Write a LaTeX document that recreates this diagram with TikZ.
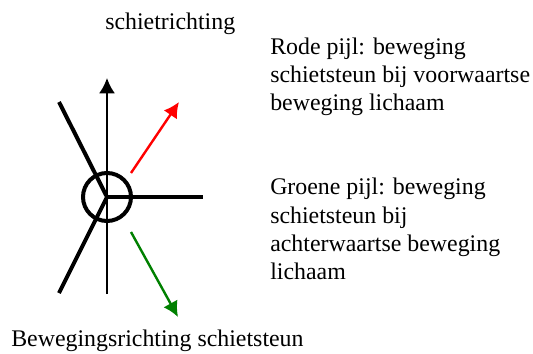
\documentclass[tikz,border=0pt]{standalone}
\usepackage{fontspec}
\setmainfont{Liberation Serif}
\usetikzlibrary{arrows.meta}
\definecolor{dgreen}{RGB}{0,128,0}
\tikzset{
 lbl/.style={inner sep=0pt,anchor=base west,font=\fontsize{17.9}{17.9}\selectfont},
 heavy/.style={line width=3pt,black},
 axis/.style={line width=1.5pt,black,-{Latex[length=11.5pt,width=12pt]}},
 arr/.style={line width=1.8pt,-{Latex[length=11.5pt,width=12pt]}}}
\begin{document}
\begin{tikzpicture}[x=0.75pt,y=-0.75pt]
\useasboundingbox (0,0) rectangle (533,354);
\fill[white] (0,0) rectangle (533,354);
\coordinate (c) at (107,197);
\coordinate (top) at (107,78);
\coordinate (bot) at (107,294);
\coordinate (ul) at (59,102);
\coordinate (ll) at (59,293);
\coordinate (r) at (203,197);
\coordinate (ra) at (131,173);
\coordinate (rb) at (179,102);
\coordinate (ga) at (131,232);
\coordinate (gb) at (178,317);
\draw[axis] (bot) -- (top);
\draw[heavy] (ul) -- (c) -- (ll);
\draw[heavy] (c) -- (r);
\node[circle,draw,line width=3pt,minimum size=36pt,inner sep=0pt] (hub) at (c) {};
\draw[arr,red] (ra) -- (rb);
\draw[arr,dgreen] (ga) -- (gb);
\node[lbl] (t1) at (105,29) {schietrichting};
\node[lbl] (t2) at (270,54) {Rode pijl: beweging};
\node[lbl] (t3) at (270,82) {schietsteun bij voorwaartse};
\node[lbl] (t4) at (270,110) {beweging lichaam};
\node[lbl] (t5) at (270,194) {Groene pijl: beweging};
\node[lbl] (t6) at (270,223) {schietsteun bij};
\node[lbl] (t7) at (270,251) {achterwaartse beweging};
\node[lbl] (t8) at (270,279) {lichaam};
\node[lbl] (t9) at (11,346) {Bewegingsrichting schietsteun};
\end{tikzpicture}
\end{document}
